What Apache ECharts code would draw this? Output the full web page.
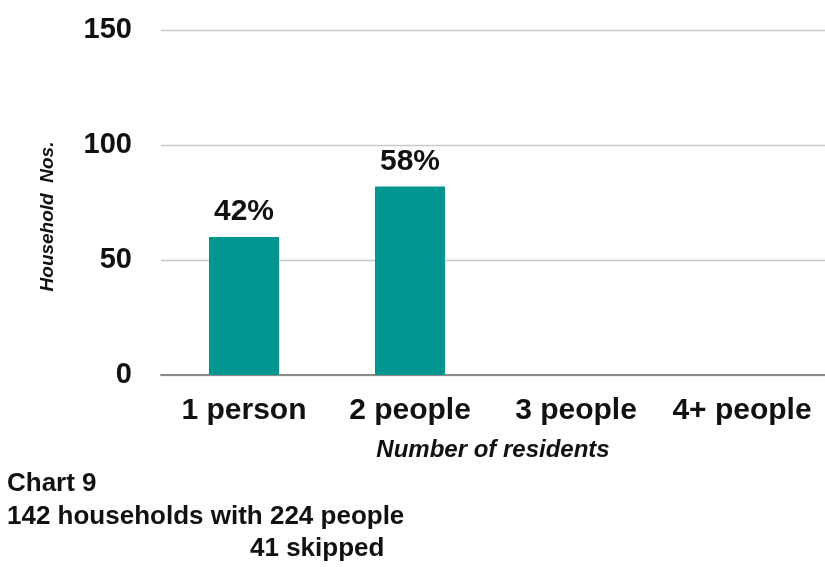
<!DOCTYPE html>
<html>
<head>
<meta charset="utf-8">
<script src="https://cdn.jsdelivr.net/npm/echarts@6/dist/echarts.min.js"></script>
<style>html,body{margin:0;padding:0;background:#fff}#c{width:825px;height:567px}</style>
</head>
<body>
<div id="c"></div>
<script>
const categories = ['1 person', '2 people', '3 people', '4+ people'];
const households = [60, 82, null, null];
const percentLabels = ['42%', '58%', '', ''];
const yTicks = [0, 50, 100, 150];

const FONT = '"Liberation Sans", Arial, sans-serif';
const chart = echarts.init(document.getElementById('c'));
chart.setOption({
  animation: false,
  textStyle: { fontFamily: FONT },
  title: [
    { text: 'Chart 9', left: 2, top: 466, textStyle: { fontSize: 26, fontWeight: 'bold', color: '#111', fontFamily: FONT } },
    { text: '142 households with 224 people', left: 2, top: 499, textStyle: { fontSize: 26, fontWeight: 'bold', color: '#111', fontFamily: FONT } },
    { text: '41 skipped', left: 245, top: 531, textStyle: { fontSize: 26, fontWeight: 'bold', color: '#111', fontFamily: FONT } }
  ],
  grid: { left: 161, width: 672, top: 30, bottom: 192, containLabel: false },
  xAxis: {
    type: 'category',
    data: categories,
    axisLine: { lineStyle: { color: '#8c8c8c', width: 2 } },
    axisTick: { show: false },
    axisLabel: { interval: 0, hideOverlap: false, fontSize: 30, fontWeight: 'bold', color: '#111', margin: 21, fontFamily: FONT },
    name: 'Number of residents',
    nameLocation: 'middle',
    nameGap: 63,
    nameTextStyle: { fontSize: 24, fontWeight: 'bold', fontStyle: 'italic', color: '#111', fontFamily: FONT }
  },
  yAxis: {
    type: 'value',
    min: yTicks[0],
    max: yTicks[yTicks.length - 1],
    interval: 50,
    axisLine: { show: false },
    axisTick: { show: false },
    splitLine: { lineStyle: { color: '#c8c8c8', width: 1.3 } },
    axisLabel: { fontSize: 29, fontWeight: 'bold', color: '#111', margin: 29, fontFamily: FONT },
    name: 'Household  Nos.',
    nameLocation: 'middle',
    nameGap: 104,
    nameRotate: 90,
    nameTextStyle: { fontSize: 19, fontWeight: 'bold', fontStyle: 'italic', color: '#111', fontFamily: FONT, padding: [0, 28, 0, 0] }
  },
  series: [{
    type: 'bar',
    data: households,
    barWidth: 70,
    itemStyle: { color: '#009690' },
    label: {
      show: true,
      position: 'top',
      distance: 10,
      fontSize: 30,
      fontWeight: 'bold',
      color: '#111',
      fontFamily: FONT,
      formatter: p => percentLabels[p.dataIndex]
    }
  }]
});
</script>
</body>
</html>
